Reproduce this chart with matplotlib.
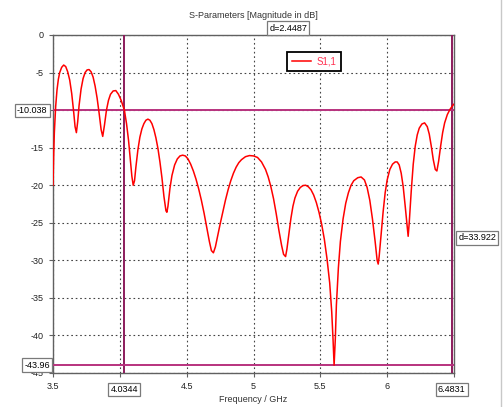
import matplotlib
matplotlib.use("Agg")
import matplotlib.pyplot as plt
from matplotlib.lines import Line2D

plt.rcParams['font.family'] = ['Liberation Sans', 'DejaVu Sans']

# S1,1 magnitude (dB)
freq = [3.50, 3.505, 3.51, 3.52, 3.53, 3.54, 3.55, 3.565, 3.58, 3.595, 3.61, 3.625,
        3.64, 3.655, 3.665, 3.675, 3.685, 3.695, 3.71, 3.725, 3.74, 3.755, 3.77, 3.785,
        3.80, 3.815, 3.83, 3.845, 3.86, 3.872, 3.885, 3.90, 3.915, 3.93, 3.95, 3.97,
        3.99, 4.01, 4.0344, 4.05, 4.065, 4.08, 4.09, 4.10, 4.11, 4.12, 4.135, 4.15,
        4.165, 4.18, 4.195, 4.21, 4.225, 4.24, 4.255, 4.27, 4.285, 4.30, 4.315, 4.33,
        4.345, 4.352, 4.36, 4.375, 4.39, 4.41, 4.43, 4.45, 4.47, 4.49, 4.51, 4.53,
        4.55, 4.57, 4.59, 4.61, 4.63, 4.65, 4.67, 4.685, 4.70, 4.715, 4.73, 4.75,
        4.77, 4.79, 4.81, 4.83, 4.85, 4.87, 4.89, 4.91, 4.94, 4.97, 5.00, 5.03,
        5.06, 5.09, 5.11, 5.13, 5.15, 5.17, 5.19, 5.21, 5.225, 5.24, 5.25, 5.265,
        5.28, 5.295, 5.31, 5.33, 5.35, 5.37, 5.39, 5.41, 5.43, 5.45, 5.47, 5.49,
        5.51, 5.53, 5.55, 5.57, 5.585, 5.595, 5.603, 5.612, 5.62, 5.635, 5.65, 5.67,
        5.69, 5.71, 5.73, 5.75, 5.78, 5.805, 5.83, 5.85, 5.87, 5.89, 5.91, 5.925,
        5.933, 5.94, 5.955, 5.97, 5.985, 6.00, 6.02, 6.04, 6.06, 6.075, 6.09, 6.105,
        6.12, 6.135, 6.15, 6.157, 6.165, 6.18, 6.195, 6.21, 6.225, 6.24, 6.26, 6.28,
        6.30, 6.315, 6.33, 6.345, 6.36, 6.372, 6.385, 6.40, 6.415, 6.43, 6.45, 6.47,
        6.49, 6.50]
s11 = [-20.0, -16.0, -13.0, -9.5, -7.3, -5.9, -5.0, -4.3, -4.0, -4.2, -4.9, -6.0,
       -7.8, -10.3, -12.2, -13.0, -11.5, -9.4, -7.2, -5.8, -5.0, -4.65, -4.6, -4.9,
       -5.6, -6.8, -8.4, -10.4, -12.6, -13.5, -12.0, -10.0, -8.7, -7.9, -7.45, -7.4,
       -7.9, -8.7, -10.04, -11.8, -14.0, -16.8, -18.8, -20.0, -19.4, -17.6, -15.3, -13.6,
       -12.5, -11.8, -11.35, -11.2, -11.35, -11.8, -12.6, -13.7, -15.1, -16.9, -19.0, -21.5,
       -23.4, -23.6, -22.8, -20.4, -18.7, -17.3, -16.5, -16.1, -16.0, -16.1, -16.5, -17.2,
       -18.1, -19.2, -20.5, -22.0, -23.7, -25.6, -27.5, -28.7, -29.0, -28.2, -26.9, -25.2,
       -23.6, -22.0, -20.6, -19.4, -18.4, -17.6, -17.0, -16.6, -16.2, -16.05, -16.1, -16.3,
       -16.9, -17.9, -18.9, -20.2, -21.8, -23.8, -26.0, -28.0, -29.2, -29.5, -28.5, -26.4,
       -24.4, -22.8, -21.7, -20.8, -20.3, -20.05, -20.0, -20.2, -20.6, -21.3, -22.3, -23.6,
       -25.2, -27.2, -29.8, -33.0, -36.8, -40.5, -43.96, -40.5, -36.0, -31.0, -27.5, -24.5,
       -22.4, -21.0, -20.0, -19.4, -19.0, -18.9, -19.3, -20.3, -22.0, -24.5, -27.5, -30.0,
       -30.5, -29.5, -26.5, -23.5, -21.0, -19.3, -17.9, -17.2, -16.9, -16.9, -17.3, -18.4,
       -20.2, -22.8, -25.6, -26.8, -25.0, -20.8, -17.2, -14.8, -13.3, -12.4, -11.85, -11.7,
       -12.2, -13.2, -14.8, -16.6, -17.9, -18.1, -16.8, -14.8, -13.0, -11.7, -10.6, -9.9,
       -9.4, -9.2]

x_ticks = [3.5, 4.0, 4.5, 5.0, 5.5, 6.0, 6.5]
x_tick_labels = ['3.5', '', '4.5', '5', '5.5', '6', '']
y_ticks = [0, -5, -10, -15, -20, -25, -30, -35, -40, -45]
y_tick_labels = ['0', '-5', '', '-15', '-20', '-25', '-30', '-35', '-40', '-45']

marker_x = [4.0344, 6.4831]
marker_y = [-10.038, -43.96]

fig = plt.figure(figsize=(5.03, 4.07), dpi=100)
ax = fig.add_axes([53 / 503, 1 - 373 / 407, 401 / 503, 338 / 407])

ax.plot(freq, s11, color='#ff0000', linewidth=1.1, label='S1,1', zorder=4)

for mx in marker_x:
    ax.axvline(mx, color='#8c1c5c', linewidth=1.4, zorder=3)
for my in marker_y:
    ax.axhline(my, color='#b8327e', linewidth=1.4, zorder=3)

ax.set_xlim(3.5, 6.5)
ax.set_ylim(-45, 0)
ax.set_xticks(x_ticks)
ax.set_xticklabels(x_tick_labels)
ax.set_yticks(y_ticks)
ax.set_yticklabels(y_tick_labels)
ax.grid(True, linestyle=(0, (1.5, 2.5)), color='#444444', linewidth=0.8)
ax.tick_params(direction='out', length=3, color='#606060', labelsize=6.5,
               labelcolor='#222222')
for sp in ax.spines.values():
    sp.set_color('#606060')
    sp.set_linewidth(1.0)

ax.set_title('S-Parameters [Magnitude in dB]', fontsize=6.5, color='#333333', pad=12)
ax.set_xlabel('Frequency / GHz', fontsize=6.5, color='#333333', labelpad=3)

box = dict(boxstyle='square,pad=0.25', facecolor='white', edgecolor='#7a7a7a', linewidth=0.9)

# marker value boxes
ax.annotate('%.4f' % marker_x[0], xy=(marker_x[0], 0), xycoords=('data', 'axes fraction'),
            xytext=(0, -12), textcoords='offset points', ha='center', va='center',
            fontsize=6.5, bbox=box, annotation_clip=False, zorder=6)
ax.annotate('%.4f' % marker_x[1], xy=(marker_x[1], 0), xycoords=('data', 'axes fraction'),
            xytext=(0, -12), textcoords='offset points', ha='center', va='center',
            fontsize=6.5, bbox=box, annotation_clip=False, zorder=6)
ax.annotate('%.3f' % marker_y[0], xy=(0, marker_y[0]), xycoords=('axes fraction', 'data'),
            xytext=(-4, 0), textcoords='offset points', ha='right', va='center',
            fontsize=6.5, bbox=box, annotation_clip=False, zorder=6)
ax.annotate('%.2f' % marker_y[1], xy=(0, marker_y[1]), xycoords=('axes fraction', 'data'),
            xytext=(-2, 0), textcoords='offset points', ha='right', va='center',
            fontsize=6.5, bbox=box, annotation_clip=False, zorder=6)

# delta boxes
dx = marker_x[1] - marker_x[0]
dy = marker_y[0] - marker_y[1]
ax.annotate('d=%.4f' % dx, xy=((marker_x[0] + marker_x[1]) / 2, 1),
            xycoords=('data', 'axes fraction'), xytext=(0, 5), textcoords='offset points',
            ha='center', va='center', fontsize=6.5, bbox=box, annotation_clip=False, zorder=6)
ax.annotate('d=%.3f' % dy, xy=(1, (marker_y[0] + marker_y[1]) / 2),
            xycoords=('axes fraction', 'data'), xytext=(3, 0), textcoords='offset points',
            ha='left', va='center', fontsize=6.5, bbox=box, annotation_clip=False, zorder=6)

leg = ax.legend(loc='upper left', bbox_to_anchor=(0.584, 0.95), borderaxespad=0,
                fancybox=False, fontsize=7, labelcolor='#ff3050', handlelength=2.0,
                handletextpad=0.6, borderpad=0.45, framealpha=1)
leg.get_frame().set_edgecolor('black')
leg.get_frame().set_linewidth(1.3)
leg.set_zorder(7)

fig.add_artist(Line2D([0.996, 0.996], [0, 1], transform=fig.transFigure,
                      color='#c8c8c8', linewidth=1))

fig.savefig('out.png', dpi=100)
